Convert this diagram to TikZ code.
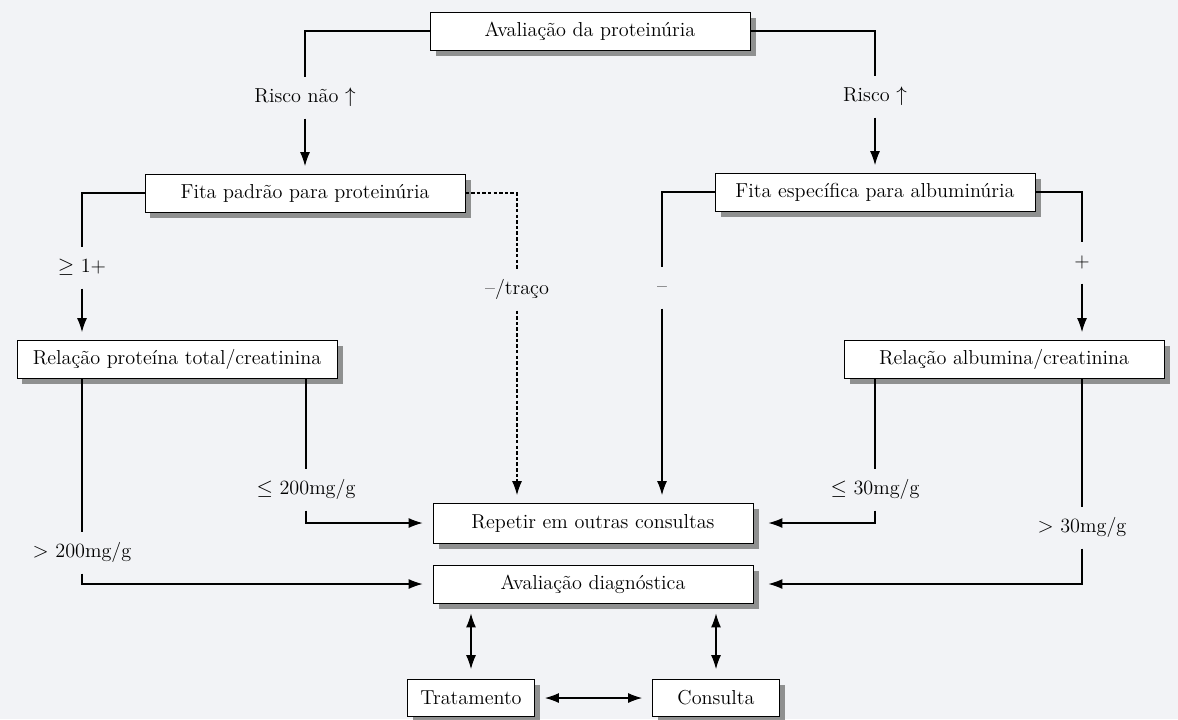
\documentclass[tikz,border=0pt]{standalone}
\usepackage{amsmath}
\usepackage{amssymb}
\usepackage{tikz}
\usetikzlibrary{arrows.meta, shadows}

\definecolor{paper}{RGB}{242,243,246}

\begin{document}
\begin{tikzpicture}
	[%
	x=0.2mm, y=-0.2mm,%
	box/.style ={rectangle,	draw=black,	fill=white,	line width=0.5pt,	inner sep=0pt,	minimum width=64mm,	minimum height=7.6mm,%
		drop shadow={shadow xshift=1.1mm, shadow yshift=-1.1mm, fill=black!60, opacity=0.7},	font=\fontsize{11.5}{13}\selectfont},%
	small/.style ={box,	minimum width=25.4mm,	minimum height=7.4mm},%
	lbl/.style ={inner xsep=2pt,	inner ysep=2.3mm,	text height=1.8ex,	text depth=0.5ex,	font=\fontsize{11.5}{13}\selectfont},%
	link/.style ={line width=0.6pt,	-{Latex[length=2.8mm, width=2mm]},	shorten >=1.5mm},%
	dlink/.style={line width=0.6pt,	{Latex[length=2.8mm, width=2mm]}-{Latex[length=2.8mm, width=2mm]},	shorten >=2mm,	shorten <=2mm},%
	line/.style ={line width=0.6pt},%
	trace/.style={dash pattern=on 2pt off 1.2pt},%
	]

	\newcommand{\colA}{82}
	\newcommand{\colB}{306}
	\newcommand{\colC}{517}
	\newcommand{\colD}{662}
	\newcommand{\colE}{875}
	\newcommand{\colF}{1082}

	\path [use as bounding box, fill=paper] (0,0) rectangle (1178,719);

	% nodes
	\node (aval)  at (590,31)      [box] {Avaliação da proteinúria};
	\node (fitaP) at (305,193)     [box] {Fita padrão para proteinúria};
	\node (fitaE) at (\colE,192)   [box] {Fita específica para albuminúria};
	\node (relP)  at (177,359)     [box] {Relação proteína total/creatinina};
	\node (relA)  at (1004,359)    [box] {Relação albumina/creatinina};
	\node (rep)   at (593,523)     [box, minimum height=8mm] {Repetir em outras consultas};
	\node (diag)  at (593,584)     [box] {Avaliação diagnóstica};
	\node (trat)  at (471,698)     [small] {Tratamento};
	\node (cons)  at (716,698)     [small] {Consulta};

	% labels on the connectors
	\node (lRiscoN) at (305,98)      [lbl] {Risco não $\uparrow$};
	\node (lRisco)  at (\colE,97)    [lbl] {Risco $\uparrow$};
	\node (lPos)    at (\colA,268)   [lbl] {$\geq$ 1+};
	\node (lTraco)  at (\colC,290)   [lbl] {\textendash/traço};
	\node (lNeg)    at (\colD,288)   [lbl] {\textendash};
	\node (lPlus)   at (\colF,263)   [lbl] {+};
	\node (lLe200)  at (\colB,490)   [lbl] {$\leq$ 200mg/g};
	\node (lGt200)  at (\colA,553)   [lbl] {$>$ 200mg/g};
	\node (lLe30)   at (\colE,490)   [lbl] {$\leq$ 30mg/g};
	\node (lGt30)   at (\colF,528)   [lbl] {$>$ 30mg/g};

	% interconnections
	% risk split
	\draw [line] (aval.west) -| (lRiscoN.north);
	\draw [link] (lRiscoN.south) -- (fitaP.north);
	\draw [line] (aval.east) -| (lRisco.north);
	\draw [link] (lRisco.south) -- (fitaE.north);

	% dipsticks
	\draw [line] (fitaP.west) -| (lPos.north);
	\draw [link] (lPos.south) -- (lPos.south |- relP.north);
	\draw [line, trace] (fitaP.east) -| (lTraco.north);
	\draw [link, trace] (lTraco.south) -- (lTraco.south |- rep.north);
	\draw [line] (fitaE.west) -| (lNeg.north);
	\draw [link] (lNeg.south) -- (lNeg.south |- rep.north);
	\draw [line] (fitaE.east) -| (lPlus.north);
	\draw [link] (lPlus.south) -- (lPlus.south |- relA.north);

	% ratios
	\draw [line] (relP.south -| lGt200) -- (lGt200.north);
	\draw [link, shorten >=2mm] (lGt200.south) |- (diag.west);
	\draw [line] (relP.south -| lLe200) -- (lLe200.north);
	\draw [link, shorten >=2mm] (lLe200.south) |- (rep.west);
	\draw [line] (relA.south -| lLe30) -- (lLe30.north);
	\draw [link, shorten >=3mm] (lLe30.south) |- (rep.east);
	\draw [line] (relA.south -| lGt30) -- (lGt30.north);
	\draw [link, shorten >=3mm] (lGt30.south) |- (diag.east);

	% follow-up
	\draw [dlink] (diag.south -| trat.north) -- (trat.north);
	\draw [dlink] (diag.south -| cons.north) -- (cons.north);
	\draw [dlink] (trat.east) -- (cons.west);

\end{tikzpicture}
\end{document}
